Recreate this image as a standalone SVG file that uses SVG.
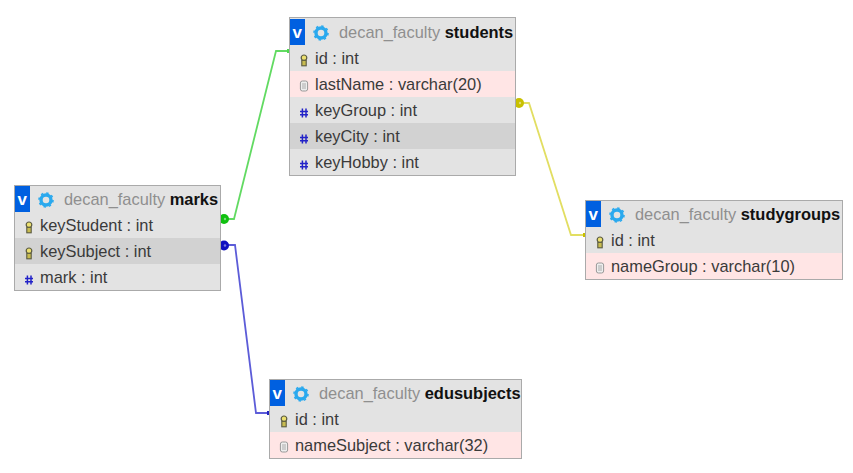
<svg xmlns="http://www.w3.org/2000/svg" width="853" height="473" viewBox="0 0 853 473">
<defs>
<style>
text{font-family:"Liberation Sans",Arial,sans-serif;font-size:16.4px;fill:#3a3a3a}
.bg{fill:#e3e3e3}.pink{fill:#ffe5e5}.hl{fill:#d2d2d2}
.frame{fill:none;stroke:#aaa;stroke-width:1}
.v{fill:#0060e0}.vt{fill:#fff;font-weight:700;font-size:17px}
.db{fill:#8f8f8f}.tn{fill:#111;font-weight:700;font-size:16.45px}
.con{fill:none;stroke-width:1.8}
.dot{fill:#fff;opacity:.45}
</style>
<g id="gear"><circle r="5" fill="none" stroke="#2aa9ee" stroke-width="3.4"/><circle r="7" fill="none" stroke="#2aa9ee" stroke-width="1.6" stroke-dasharray="2.4 3.1"/></g>
<g id="key"><circle cx="0" cy="-2.2" r="2.8" fill="#ece070" stroke="#5a5a40" stroke-width="1.2"/><rect x="-2.200" y="0.300" width="4.400" height="5.500" fill="#c8bc50" stroke="#5a5a40" stroke-width="1.1"/></g>
<g id="doc"><rect x="-3.6" y="-5" width="7.2" height="10" rx="2" fill="#eee" stroke="#999" stroke-width="1"/><path d="M-2-2H2M-2 0H2M-2 2H2" stroke="#999" stroke-width="0.8"/></g>
<g id="hash"><path d="M-1.6-4.5V4.500M2-4.500V4.500M-4-1.600H4M-4 1.800H4" stroke="#2222c8" stroke-width="1.500" fill="none"/></g>
</defs>
<rect width="853" height="473" fill="#fff"/>
<g id="connectors">
<path class="con" stroke="#62da62" d="M222 219H234L276 51H289"/>
<path class="con" stroke="#e2de62" d="M516 103H529L571 235H585"/>
<path class="con" stroke="#5c5cd8" d="M222 245H235L256 413H269"/>
<circle cx="224" cy="219" r="5" fill="#10c010"/><circle class="dot" cx="225" cy="219" r="1.200"/>
<circle cx="224" cy="245.500" r="5" fill="#1010c0"/><circle class="dot" cx="225" cy="245.500" r="1.200"/>
<circle cx="519" cy="103" r="5" fill="#c8c000"/><circle class="dot" cx="520" cy="103" r="1.200"/>
<rect x="287" y="49" width="3" height="4" fill="#4fd84f"/>
<rect x="583" y="233" width="3" height="4" fill="#c8c000"/>
<rect x="267" y="411" width="3" height="4" fill="#2222c0"/>
</g>
<g id="students">
<rect class="bg" x="290" y="18" width="225" height="157"/>
<rect class="pink" x="290" y="71" width="225" height="26"/>
<rect class="hl" x="290" y="123" width="225" height="26"/>
<rect class="frame" x="289.500" y="17.500" width="226" height="158"/>
<rect class="v" x="290" y="19" width="15" height="26"/><text class="vt" x="292.500" y="38">v</text>
<use href="#gear" x="321" y="33"/>
<text x="339" y="38"><tspan class="db">decan_faculty</tspan> <tspan class="tn">students</tspan></text>
<use href="#key" x="304" y="60"/><text x="315" y="64">id : int</text>
<use href="#doc" x="304" y="86"/><text x="315" y="90">lastName : varchar(20)</text>
<use href="#hash" x="304" y="113"/><text x="315" y="116">keyGroup : int</text>
<use href="#hash" x="304" y="139"/><text x="315" y="142">keyCity : int</text>
<use href="#hash" x="304" y="165"/><text x="315" y="168">keyHobby : int</text>
</g>
<g id="marks">
<rect class="bg" x="15" y="186" width="205" height="104"/>
<rect class="hl" x="15" y="238" width="205" height="26"/>
<rect class="frame" x="14.500" y="185.500" width="206" height="105"/>
<rect class="v" x="15" y="186" width="15" height="26"/><text class="vt" x="17.500" y="205">v</text>
<use href="#gear" x="46" y="200"/>
<text x="64" y="205"><tspan class="db">decan_faculty</tspan> <tspan class="tn">marks</tspan></text>
<use href="#key" x="29" y="227"/><text x="40" y="231">keyStudent : int</text>
<use href="#key" x="29" y="253"/><text x="40" y="257">keySubject : int</text>
<use href="#hash" x="29" y="280"/><text x="40" y="283">mark : int</text>
</g>
<g id="studygroups">
<rect class="bg" x="586" y="201" width="256" height="78"/>
<rect class="pink" x="586" y="253" width="256" height="26"/>
<rect class="frame" x="585.500" y="200.500" width="257" height="79"/>
<rect class="v" x="586" y="201" width="15" height="26"/><text class="vt" x="588.500" y="220">v</text>
<use href="#gear" x="617" y="215"/>
<text x="635" y="220"><tspan class="db">decan_faculty</tspan> <tspan class="tn">studygroups</tspan></text>
<use href="#key" x="600" y="242"/><text x="611" y="246">id : int</text>
<use href="#doc" x="600" y="268"/><text x="611" y="272">nameGroup : varchar(10)</text>
</g>
<g id="edusubjects">
<rect class="bg" x="270" y="380" width="251" height="78"/>
<rect class="pink" x="270" y="432" width="251" height="26"/>
<rect class="frame" x="269.500" y="379.500" width="252" height="79"/>
<rect class="v" x="270" y="380" width="15" height="26"/><text class="vt" x="272.500" y="399">v</text>
<use href="#gear" x="301" y="394"/>
<text x="319" y="399"><tspan class="db">decan_faculty</tspan> <tspan class="tn">edusubjects</tspan></text>
<use href="#key" x="284" y="421"/><text x="295" y="425">id : int</text>
<use href="#doc" x="284" y="447"/><text x="295" y="451">nameSubject : varchar(32)</text>
</g>
</svg>
